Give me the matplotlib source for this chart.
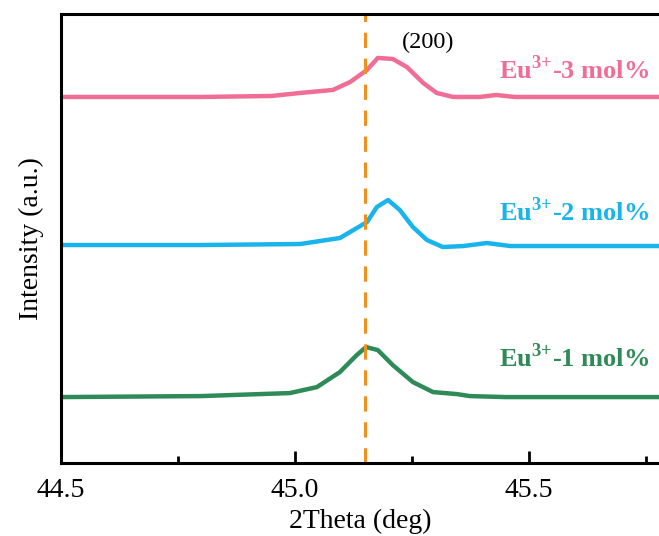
import numpy as np
import matplotlib
matplotlib.use("Agg")
import matplotlib.pyplot as plt
from matplotlib.ticker import MultipleLocator, FormatStrFormatter

plt.rcParams['font.family'] = ['Liberation Serif', 'DejaVu Serif']
plt.rcParams['mathtext.fontset'] = 'custom'
plt.rcParams['mathtext.rm'] = 'Liberation Serif'
plt.rcParams['mathtext.bf'] = 'Liberation Serif:bold'

# 2Theta positions (deg) and stacked intensities (a.u.)
theta_3 = [44.5, 44.8, 44.95, 45.011, 45.081, 45.118, 45.154, 45.177, 45.209, 45.239,
           45.274, 45.303, 45.338, 45.395, 45.43, 45.47, 45.6, 45.79]
int_3 = [366, 366, 367, 370, 373, 381, 393, 405, 404, 396,
         380, 370, 366, 366, 368, 366, 366, 366]

theta_2 = [44.5, 44.8, 45.011, 45.096, 45.154, 45.175, 45.199, 45.224, 45.252, 45.282,
           45.316, 45.36, 45.41, 45.46, 45.6, 45.79]
int_2 = [218, 218, 219, 225, 241, 256, 263, 253, 236, 223,
         216, 217, 220, 217, 217, 217]

theta_1 = [44.5, 44.8, 44.989, 45.047, 45.096, 45.132, 45.152, 45.177, 45.209, 45.252,
           45.295, 45.346, 45.374, 45.45, 45.6, 45.79]
int_1 = [66, 67, 70, 76, 91, 108, 116, 113, 98, 81,
         71, 69, 67, 66, 66, 66]

series = [
    (theta_1, int_1, '#2e8b57', r'Eu$^{\mathbf{3{+}}}$-1 mol%', 105),
    (theta_2, int_2, '#1ab4ec', r'Eu$^{\mathbf{3{+}}}$-2 mol%', 251),
    (theta_3, int_3, '#f06e96', r'Eu$^{\mathbf{3{+}}}$-3 mol%', 393),
]
peak_pos = 45.15

fig = plt.figure(figsize=(6.59, 5.36), dpi=100)
ax = fig.add_axes([0.0926, 0.136, 0.9074, 0.838])

for tx, iy, col, lab, ly in series:
    ax.plot(tx, iy, color=col, lw=3.2, solid_joinstyle='round')
    ax.text(45.756, ly, lab, color=col, fontsize=19, fontweight='bold',
            ha='right', va='center')

ax.axvline(peak_pos, color='#f0901e', lw=2.2, ls=(0, (5, 3.5)))
ax.text(45.284, 420, '(200)', fontsize=17.5, ha='center', va='center')

ax.set_xlim(44.5, 45.778)
ax.set_ylim(0, 449)
ax.xaxis.set_major_locator(MultipleLocator(0.5))
ax.xaxis.set_minor_locator(MultipleLocator(0.25))
ax.xaxis.set_major_formatter(FormatStrFormatter('%.1f'))
ax.tick_params(axis='x', which='major', direction='in', length=9, width=2, labelsize=20, pad=11)
ax.tick_params(axis='x', which='minor', direction='in', length=5, width=2)
ax.set_yticks([])
for s in ['left', 'bottom', 'top']:
    ax.spines[s].set_linewidth(2.2)
ax.spines['right'].set_visible(False)

ax.set_xlabel('2Theta (deg)', fontsize=20, labelpad=4)
ax.set_ylabel('Intensity (a.u.)', fontsize=20, labelpad=12)

fig.savefig('out.png', dpi=100)
